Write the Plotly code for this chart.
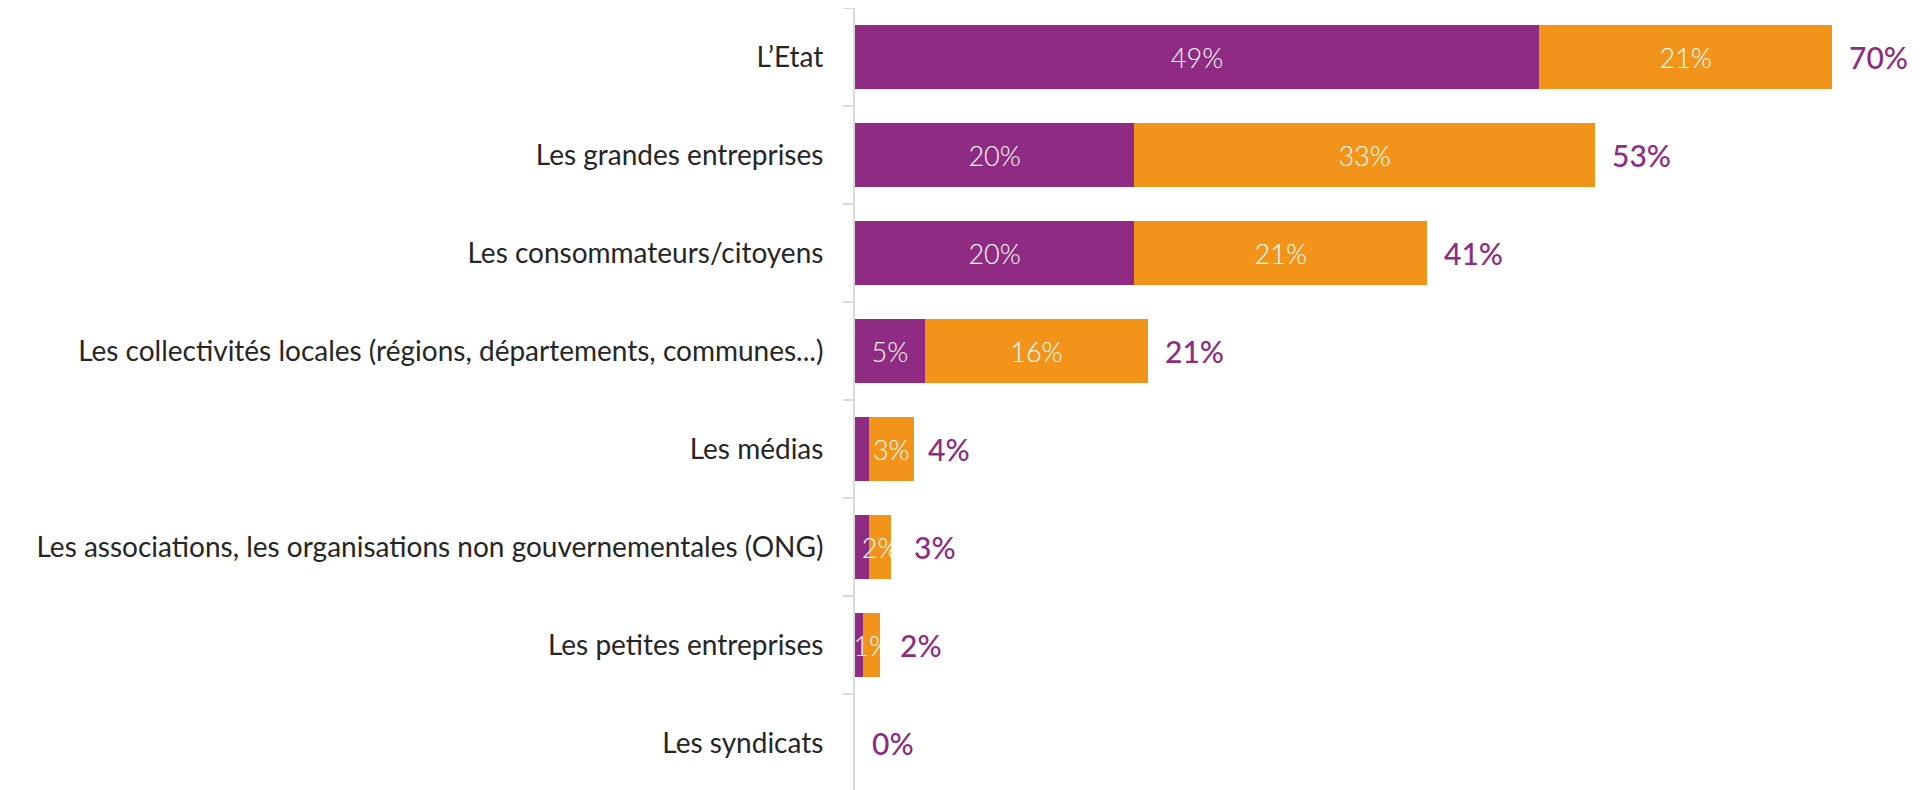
import plotly.graph_objects as go

categories = ["L’Etat", "Les grandes entreprises", "Les consommateurs/citoyens",
              "Les collectivités locales (régions, départements, communes...)",
              "Les médias", "Les associations, les organisations non gouvernementales (ONG)",
              "Les petites entreprises", "Les syndicats"]
first_choice = [49, 20, 20, 5, 1, 1, 0.6, 0]
second_choice = [21, 33, 21, 16, 3.2, 1.6, 1.2, 0]
totals = [70, 53, 41, 21, 4, 3, 2, 0]

PURPLE = "#8F2B83"
ORANGE = "#F3941A"
FONT = "Lato"

first_text = [f"{v:.0f}%" if v >= 2 else "" for v in first_choice]
second_text = [f"{v:.0f}%" if v > 0 else "" for v in second_choice]

fig = go.Figure()
fig.add_trace(go.Bar(y=categories, x=first_choice, orientation="h", marker_color=PURPLE,
                     marker_line_width=0, text=first_text, textposition="inside",
                     insidetextanchor="middle", textangle=0, constraintext="none",
                     textfont=dict(color="white", size=27, family=FONT, weight=300), hoverinfo="skip"))
fig.add_trace(go.Bar(y=categories, x=second_choice, orientation="h", marker_color=ORANGE,
                     marker_line_width=0, text=second_text, textposition="inside",
                     insidetextanchor="middle", textangle=0, constraintext="none",
                     textfont=dict(color="white", size=27, family=FONT, weight=300), hoverinfo="skip"))

for c, t in zip(categories, totals):
    fig.add_annotation(x=t, y=c, text=f"{t}%", showarrow=False, xanchor="left",
                       xshift=15, font=dict(color=PURPLE, size=30, family=FONT, weight=500))

fig.update_layout(
    barmode="stack", bargap=0.337, width=1915, height=784,
    margin=dict(l=847, r=0, t=0, b=0), showlegend=False,
    plot_bgcolor="white", paper_bgcolor="white",
    xaxis=dict(range=[0, 76.5], visible=False, showgrid=False, zeroline=False),
    yaxis=dict(autorange="reversed", showline=True, linecolor="#D9D9D9", linewidth=2,
               ticks="outside", tickcolor="#D9D9D9", ticklen=10, tickwidth=2,
               tickson="boundaries", showgrid=False, ticklabelstandoff=24,
               tickfont=dict(size=28, color="#262626", family=FONT, weight=400),
               automargin=False),
)
fig.write_html("out.html")
